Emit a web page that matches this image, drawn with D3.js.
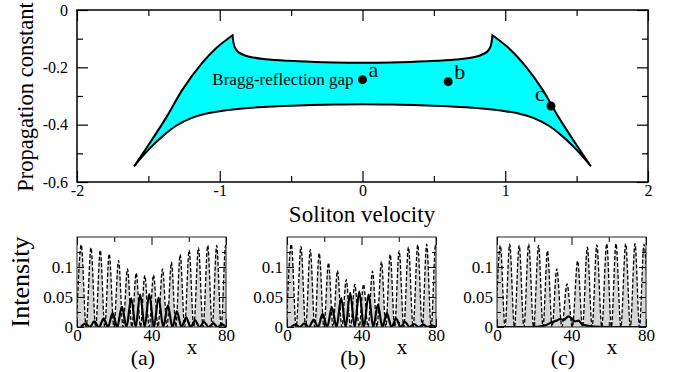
<!DOCTYPE html>
<html>
<head>
<meta charset="utf-8">
<script src="https://cdn.jsdelivr.net/npm/d3@7"></script>
<style>
  body { margin: 0; background: #fff; }
  svg { display: block; }
  svg text { font-family: "Liberation Serif", "Times New Roman", "DejaVu Serif", serif !important; fill: #000; }
</style>
</head>
<body>
<div class="chart"></div>
<script>
// ---- main panel: boundaries of the Bragg-reflection gap ----
const outerLeftV = [-1.6, -1.49, -1.37, -1.26, -1.14, -1.02, -0.91];
const outerLeftB = [-0.545, -0.464, -0.371, -0.277, -0.195, -0.131, -0.088];
const upperV = [-0.91, -0.905, -0.895, -0.87, -0.8, -0.65, -0.45, -0.2, 0, 0.2, 0.45, 0.65, 0.8, 0.87, 0.895, 0.905, 0.91];
const upperB = [-0.088, -0.11, -0.13, -0.147, -0.162, -0.173, -0.179, -0.183, -0.184, -0.183, -0.179, -0.173, -0.162, -0.147, -0.13, -0.11, -0.088];
const outerRightV = [0.91, 1.02, 1.14, 1.26, 1.37, 1.49, 1.6];
const outerRightB = [-0.088, -0.131, -0.195, -0.277, -0.371, -0.464, -0.545];
const lowerV = [1.6, 1.5, 1.4, 1.3, 1.2, 1.1, 1.0, 0.8, 0.6, 0.4, 0.2, 0, -0.2, -0.4, -0.6, -0.8, -1.0, -1.1, -1.2, -1.3, -1.4, -1.5, -1.6];
const lowerB = [-0.545, -0.488, -0.44, -0.402, -0.377, -0.362, -0.353, -0.342, -0.336, -0.332, -0.33, -0.329, -0.33, -0.332, -0.336, -0.342, -0.353, -0.362, -0.377, -0.402, -0.44, -0.488, -0.545];

const pointNames = ["a", "b", "c"];
const pointV = [0, 0.6, 1.32];
const pointB = [-0.243, -0.25, -0.335];

const mainXTicks = [-2, -1, 0, 1, 2];
const mainXMinor = [-1.5, -0.5, 0.5, 1.5];
const mainYTicks = [0, -0.2, -0.4, -0.6];
const mainYMinor = [-0.1, -0.3, -0.5];

// ---- bottom panels: intensity profiles ----
const panelNames = ["(a)", "(b)", "(c)"];
const dashPeakX = [
  [2.3, 7.5, 12.5, 17.3, 22.3, 27.1, 31.8, 36.4, 41.1, 45.9, 50.7, 55.4, 60.2, 65.2, 70.2, 75, 79.8],
  [2.3, 7.5, 12.5, 17.3, 22.3, 27.1, 31.8, 36.4, 41.1, 45.9, 50.7, 55.4, 60.2, 65.2, 70.2, 75, 79.8],
  [1.8, 6.8, 11.9, 17, 22.3, 27.1, 32.1, 37.6, 43.3, 48.5, 53.6, 58.9, 63.9, 69.1, 74.1, 78.9]
];
const dashPeakI = [
  [0.137, 0.132, 0.128, 0.122, 0.111, 0.097, 0.09, 0.086, 0.087, 0.097, 0.108, 0.121, 0.128, 0.132, 0.136, 0.136, 0.136],
  [0.138, 0.134, 0.129, 0.123, 0.107, 0.094, 0.079, 0.071, 0.071, 0.093, 0.109, 0.121, 0.127, 0.133, 0.137, 0.138, 0.138],
  [0.136, 0.138, 0.136, 0.138, 0.136, 0.127, 0.097, 0.072, 0.11, 0.133, 0.137, 0.139, 0.139, 0.139, 0.139, 0.138]
];
const solidPeakX = [
  [4.5, 9.3, 14.3, 19.1, 24.1, 29.1, 33.9, 38.8, 43.8, 48.8, 53.6, 58.6, 63.4, 68.2, 73.2, 77.7],
  [4.5, 9.3, 14.3, 19.1, 24.1, 29.1, 33.9, 38.8, 43.8, 48.8, 53.6, 58.6, 63.4, 68.2, 73.2, 77.7]
];
const solidPeakI = [
  [0.0056, 0.0094, 0.014, 0.023, 0.034, 0.048, 0.054, 0.055, 0.049, 0.036, 0.026, 0.016, 0.011, 0.0083, 0.0061, 0.0044],
  [0.0039, 0.0061, 0.012, 0.022, 0.033, 0.048, 0.057, 0.059, 0.054, 0.037, 0.023, 0.014, 0.0083, 0.005, 0.0039, 0.0022]
];
const solidCX = [0, 20, 23.2, 26.8, 29.5, 32.1, 33.9, 35.7, 38.4, 40.2, 42, 43.8, 45.5, 48.2, 51.8, 60, 80];
const solidCI = [0, 0, 0.0011, 0.0039, 0.0083, 0.0106, 0.0133, 0.0117, 0.0178, 0.0139, 0.0094, 0.0106, 0.005, 0.0022, 0.0006, 0, 0];

const panelXTicks = [0, 40, 80];
const panelXMinor = [20, 60];
const panelYTicks = [0, 0.05, 0.1];
const panelYMinor = [0.025, 0.075, 0.125];

const serif = "Liberation Serif";

const svg = d3.select(".chart").append("svg")
  .attr("width", 674)
  .attr("height", 372);

// ================= main panel =================
const x = d3.scaleLinear().domain([-2, 2]).range([77, 648]);
const y = d3.scaleLinear().domain([-0.6, 0]).range([182, 10]);

const seg = d3.line().x(d => x(d[0])).y(d => y(d[1])).curve(d3.curveCatmullRom);
const pieces = [
  [outerLeftV, outerLeftB], [upperV, upperB], [outerRightV, outerRightB], [lowerV, lowerB]
].map(([vs, bs], i) => {
  const p = seg(d3.zip(vs, bs));
  return i === 0 ? p : p.replace(/^M/, "L");
});

svg.append("path")
  .attr("d", pieces.join("") + "Z")
  .attr("fill", "#00ffff")
  .attr("stroke", "#000")
  .attr("stroke-width", 2)
  .attr("stroke-linejoin", "miter");

function styleAxis(g, size) {
  g.attr("font-family", serif);
  g.select(".domain").remove();
  g.selectAll("line").attr("stroke", "#000").attr("stroke-width", 1.2);
  g.selectAll("text").attr("font-size", size).attr("font-family", serif);
}
const plain = d => String(d);

svg.append("g").attr("transform", "translate(0,182)")
  .call(d3.axisBottom(x).tickValues(mainXTicks).tickFormat(plain).tickSizeInner(-11).tickSizeOuter(0).tickPadding(3))
  .call(g => styleAxis(g, 16));
svg.append("g").attr("transform", "translate(0,182)")
  .call(d3.axisBottom(x).tickValues(mainXMinor).tickFormat("").tickSizeInner(-6).tickSizeOuter(0))
  .call(g => styleAxis(g, 16));
svg.append("g").attr("transform", "translate(0,10)")
  .call(d3.axisTop(x).tickValues(mainXTicks).tickFormat("").tickSizeInner(-11).tickSizeOuter(0))
  .call(g => styleAxis(g, 16));
svg.append("g").attr("transform", "translate(0,10)")
  .call(d3.axisTop(x).tickValues(mainXMinor).tickFormat("").tickSizeInner(-6).tickSizeOuter(0))
  .call(g => styleAxis(g, 16));
svg.append("g").attr("transform", "translate(77,0)")
  .call(d3.axisLeft(y).tickValues(mainYTicks).tickFormat(plain).tickSizeInner(-11).tickSizeOuter(0).tickPadding(9))
  .call(g => styleAxis(g, 16));
svg.append("g").attr("transform", "translate(77,0)")
  .call(d3.axisLeft(y).tickValues(mainYMinor).tickFormat("").tickSizeInner(-6).tickSizeOuter(0))
  .call(g => styleAxis(g, 16));
svg.append("g").attr("transform", "translate(648,0)")
  .call(d3.axisRight(y).tickValues(mainYTicks).tickFormat("").tickSizeInner(-11).tickSizeOuter(0))
  .call(g => styleAxis(g, 16));
svg.append("g").attr("transform", "translate(648,0)")
  .call(d3.axisRight(y).tickValues(mainYMinor).tickFormat("").tickSizeInner(-6).tickSizeOuter(0))
  .call(g => styleAxis(g, 16));

svg.append("rect")
  .attr("x", 77).attr("y", 10).attr("width", 648 - 77).attr("height", 182 - 10)
  .attr("fill", "none").attr("stroke", "#000").attr("stroke-width", 1.5);

// marked solitons
const pts = d3.zip(pointNames, pointV, pointB);
svg.selectAll(".pt").data(pts).enter().append("circle")
  .attr("class", "pt")
  .attr("cx", d => x(d[1])).attr("cy", d => y(d[2]))
  .attr("r", 4.5)
  .attr("fill", "#000");
const labelOffset = { a: [6, -3], b: [6, -3], c: [-16, -5] };
svg.selectAll(".pl").data(pts).enter().append("text")
  .attr("class", "pl")
  .attr("x", d => x(d[1]) + labelOffset[d[0]][0])
  .attr("y", d => y(d[2]) + labelOffset[d[0]][1])
  .attr("font-family", serif)
  .attr("font-size", 22)
  .text(d => d[0]);

svg.append("text")
  .attr("x", x(0) - 9).attr("y", y(-0.243) + 5)
  .attr("text-anchor", "end")
  .attr("font-family", serif)
  .attr("font-size", 17)
  .text("Bragg-reflection gap");

svg.append("text")
  .attr("x", 362).attr("y", 222)
  .attr("text-anchor", "middle")
  .attr("font-family", serif)
  .attr("font-size", 23)
  .text("Soliton velocity");

svg.append("text")
  .attr("transform", "translate(33,97) rotate(-90)")
  .attr("text-anchor", "middle")
  .attr("font-family", serif)
  .attr("font-size", 22.5)
  .text("Propagation constant");

// ================= bottom panels =================
const panelLeft = [77, 287, 497];
const pTop = 237, pBottom = 327, pW = 149;
const xP = d3.scaleLinear().domain([0, 80]);
const yP = d3.scaleLinear().domain([0, 0.15]).range([pBottom, pTop]);

function wavePoints(px, pi) {
  // peaks with the zero troughs between them
  const out = [];
  const half = (px[1] - px[0]) / 2;
  out.push([px[0] - half, 0]);
  px.forEach((p, i) => {
    if (i > 0) out.push([(px[i - 1] + p) / 2, 0]);
    out.push([p, pi[i]]);
  });
  out.push([px[px.length - 1] + half, 0]);
  return out;
}

panelLeft.forEach((left, k) => {
  xP.range([left, left + pW]);
  const g = svg.append("g");
  const clipId = "clip" + k;
  svg.append("clipPath").attr("id", clipId).append("rect")
    .attr("x", left).attr("y", pTop).attr("width", pW).attr("height", pBottom - pTop);

  const dashData = wavePoints(dashPeakX[k], dashPeakI[k]);
  const solidData = k < 2 ? wavePoints(solidPeakX[k], solidPeakI[k]) : d3.zip(solidCX, solidCI);

  const area = d3.area().x(d => xP(d[0])).y0(pBottom).y1(d => yP(d[1])).curve(d3.curveMonotoneX);
  const line = d3.line().x(d => xP(d[0])).y(d => yP(d[1])).curve(d3.curveMonotoneX);

  const inner = g.append("g").attr("clip-path", `url(#${clipId})`);
  inner.append("path").attr("d", area(dashData)).attr("fill", "#d6d6d6");
  inner.append("path").attr("d", line(dashData))
    .attr("fill", "none").attr("stroke", "#000").attr("stroke-width", 1.3)
    .attr("stroke-dasharray", "4,2");
  inner.append("path").attr("d", line(solidData))
    .attr("fill", "none").attr("stroke", "#000").attr("stroke-width", 2.2)
    .attr("stroke-linejoin", "round");

  g.append("g").attr("transform", `translate(0,${pBottom})`)
    .call(d3.axisBottom(xP).tickValues(panelXTicks).tickFormat(plain).tickSizeInner(-8).tickSizeOuter(0).tickPadding(2))
    .call(a => styleAxis(a, 17));
  g.append("g").attr("transform", `translate(0,${pBottom})`)
    .call(d3.axisBottom(xP).tickValues(panelXMinor).tickFormat("").tickSizeInner(-5).tickSizeOuter(0))
    .call(a => styleAxis(a, 17));
  g.append("g").attr("transform", `translate(0,${pTop})`)
    .call(d3.axisTop(xP).tickValues(panelXTicks).tickFormat("").tickSizeInner(-8).tickSizeOuter(0))
    .call(a => styleAxis(a, 17));
  g.append("g").attr("transform", `translate(0,${pTop})`)
    .call(d3.axisTop(xP).tickValues(panelXMinor).tickFormat("").tickSizeInner(-5).tickSizeOuter(0))
    .call(a => styleAxis(a, 17));
  g.append("g").attr("transform", `translate(${left},0)`)
    .call(d3.axisLeft(yP).tickValues(panelYTicks).tickFormat(plain).tickSizeInner(-7).tickSizeOuter(0).tickPadding(4))
    .call(a => styleAxis(a, 17));
  g.append("g").attr("transform", `translate(${left},0)`)
    .call(d3.axisLeft(yP).tickValues(panelYMinor).tickFormat("").tickSizeInner(-4).tickSizeOuter(0))
    .call(a => styleAxis(a, 17));
  g.append("g").attr("transform", `translate(${left + pW},0)`)
    .call(d3.axisRight(yP).tickValues(panelYTicks).tickFormat("").tickSizeInner(-7).tickSizeOuter(0))
    .call(a => styleAxis(a, 17));
  g.append("g").attr("transform", `translate(${left + pW},0)`)
    .call(d3.axisRight(yP).tickValues(panelYMinor).tickFormat("").tickSizeInner(-4).tickSizeOuter(0))
    .call(a => styleAxis(a, 17));
  g.selectAll(".tick line").attr("stroke-width", 1);

  g.append("rect")
    .attr("x", left).attr("y", pTop).attr("width", pW).attr("height", pBottom - pTop)
    .attr("fill", "none").attr("stroke", "#222").attr("stroke-width", 1);

  g.append("text")
    .attr("x", left + 115).attr("y", 354)
    .attr("text-anchor", "middle")
    .attr("font-family", serif)
    .attr("font-size", 21)
    .text("x");
  g.append("text")
    .attr("x", left + 66).attr("y", 365)
    .attr("text-anchor", "middle")
    .attr("font-family", serif)
    .attr("font-size", 22)
    .text(panelNames[k]);
});

svg.append("text")
  .attr("transform", "translate(29,282) rotate(-90)")
  .attr("text-anchor", "middle")
  .attr("font-family", serif)
  .attr("font-size", 26)
  .text("Intensity");
</script>
</body>
</html>
